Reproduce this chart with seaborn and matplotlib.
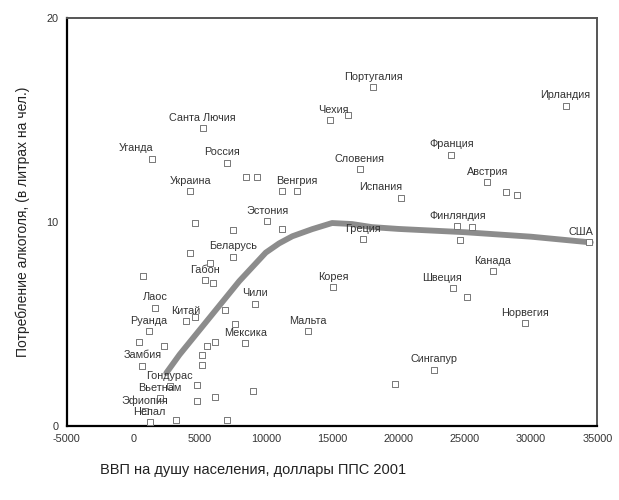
import matplotlib
matplotlib.use("Agg")
import matplotlib.pyplot as plt
import pandas as pd
import seaborn as sns

# страны (пустая строка - точка без подписи)
countries = [
    "Португалия", "Ирландия", "Чехия", "", "Санта Лючия", "Уганда", "Россия",
    "Словения", "Франция", "Украина", "", "", "", "Венгрия", "Испания", "Австрия",
    "", "", "Эстония", "", "", "", "Финляндия", "", "", "Греция", "США",
    "Беларусь", "", "", "", "Габон", "", "Канада", "Корея", "Швеция", "",
    "Лаос", "Китай", "", "", "Чили", "Руанда", "Мальта", "Норвегия", "Мексика",
    "", "", "", "", "", "Замбия", "", "", "Сингапур", "", "Гондурас", "Вьетнам",
    "Эфиопия", "Непал", "", "", "", "", "", "",
]
gdp = [
    18100, 32600, 14850, 16200, 5250, 1400, 7100,
    17100, 24000, 4300, 8500, 9350, 11200, 12350, 20200, 26700,
    28150, 28950, 10100, 11200, 4650, 7550, 24450, 25550, 24650, 17350, 34400,
    7550, 4300, 750, 5800, 5400, 6000, 27100, 15100, 24150, 25200,
    1650, 4000, 4650, 6900, 9200, 1200, 13200, 29550, 8450,
    7700, 6150, 5550, 450, 2300, 700, 5200, 5200, 22700, 19750, 2750, 2000,
    900, 1250, 4800, 9050, 4800, 6150, 7050, 3200,
]
alcohol = [
    16.6, 15.7, 15.0, 15.25, 14.6, 13.1, 12.9,
    12.6, 13.3, 11.5, 12.2, 12.2, 11.5, 11.5, 11.2, 11.95,
    11.45, 11.3, 10.05, 9.65, 9.95, 9.6, 9.8, 9.75, 9.1, 9.15, 9.0,
    8.3, 8.5, 7.35, 8.0, 7.15, 7.0, 7.6, 6.8, 6.75, 6.3,
    5.8, 5.15, 5.35, 5.7, 6.0, 4.65, 4.65, 5.05, 4.05,
    5.0, 4.1, 3.9, 4.1, 3.9, 2.95, 3.5, 3.0, 2.75, 2.05, 1.95, 1.35,
    0.75, 0.2, 2.0, 1.7, 1.25, 1.4, 0.3, 0.3,
]

# сглаженная кривая
fit_x = [2500, 3500, 5000, 6000, 7000, 8000, 9000, 10000, 11000, 12000,
         13500, 15000, 16500, 18000, 20000, 25000, 30000, 34500]
fit_y = [2.6, 3.5, 4.7, 5.5, 6.3, 7.1, 7.8, 8.5, 8.95, 9.3,
         9.65, 9.95, 9.9, 9.75, 9.66, 9.5, 9.28, 9.0]

x_ticks = [-5000, 0, 5000, 10000, 15000, 20000, 25000, 30000, 35000]
y_ticks = [0, 10, 20]

df = pd.DataFrame({"gdp": gdp, "alc": alcohol, "name": countries})
fit = pd.DataFrame({"x": fit_x, "y": fit_y})

sns.set_style("white")
plt.rcParams['font.family'] = ['Liberation Sans', 'DejaVu Sans']

fig = plt.figure(figsize=(6.19, 5.0), dpi=100)
ax = fig.add_axes([0.108, 0.148, 0.857, 0.816])

sns.lineplot(data=fit, x="x", y="y", sort=False, color="#8c8c8c", lw=4.2,
             solid_capstyle="round", ax=ax, zorder=2)
sns.scatterplot(data=df, x="gdp", y="alc", marker="s", s=14, facecolor="white",
                edgecolor="#777777", linewidth=0.7, ax=ax, zorder=3)

# сдвиг подписей по горизонтали (в пунктах)
shift = {"Уганда": -11, "Испания": -15, "Швеция": -8, "США": -6, "Россия": -4,
         "Венгрия": 0, "Чехия": 2, "Гондурас": 0}
for n, x, y in zip(countries, gdp, alcohol):
    if not n:
        continue
    ax.annotate(n, (x, y), xytext=(shift.get(n, 0), 7.5), textcoords="offset points",
                ha="center", va="center", fontsize=7.8, color="#333333", zorder=4)

ax.set_xlim(-5000, 35000)
ax.set_ylim(0, 20)
ax.set_xticks(x_ticks)
ax.set_xticklabels([str(t) for t in x_ticks])
ax.set_yticks(y_ticks)
ax.tick_params(axis="both", length=3, width=1.5, color="black", labelsize=7.8,
               labelcolor="#333333", direction="out", pad=3)
for s in ["left", "bottom"]:
    ax.spines[s].set_color("black")
    ax.spines[s].set_linewidth(1.6)
for s in ["top", "right"]:
    ax.spines[s].set_color("#555555")
    ax.spines[s].set_linewidth(1.4)

ax.set_xlabel("")
ax.set_ylabel("Потребление алкоголя, (в литрах на чел.)", fontsize=10, color="#222222",
              labelpad=12)
fig.text(100 / 619, 1 - 470 / 500, "ВВП на душу населения, доллары ППС 2001",
         fontsize=10.5, color="#222222", ha="left", va="center")

fig.savefig("out.png", dpi=100)
